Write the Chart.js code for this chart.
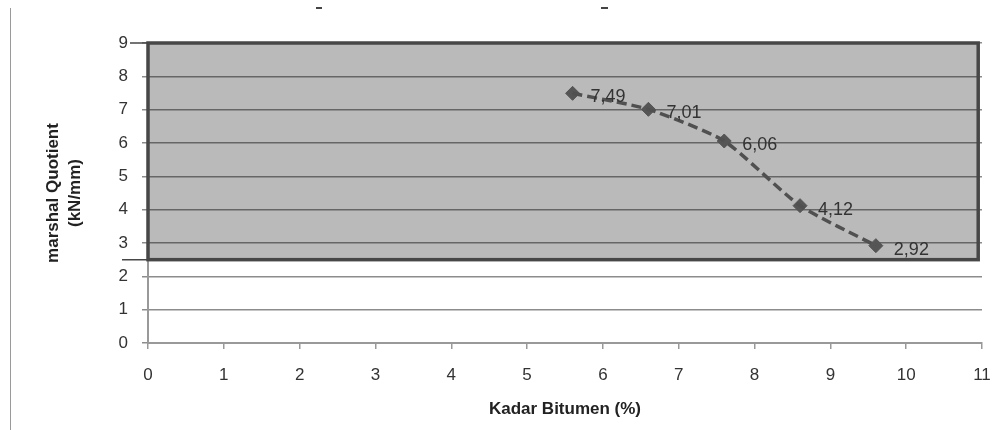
<!DOCTYPE html>
<html>
<head>
<meta charset="utf-8">
<script src="https://cdn.jsdelivr.net/npm/chart.js@4/dist/chart.umd.min.js"></script>
<style>
  html, body { margin: 0; padding: 0; background: #fff; }
  #wrap { position: relative; width: 1002px; height: 430px; }
  #frame { position: absolute; left: 10px; top: 8px; width: 0; height: 422px; border-left: 1.5px solid #9a9a9a; }
  .frag { position: absolute; top: 7px; height: 2px; background: #444; }
</style>
</head>
<body>
<div id="wrap">
  <canvas id="c" width="1002" height="430"></canvas>
  <div id="frame"></div>
  <div class="frag" style="left:316px;width:6px"></div>
  <div class="frag" style="left:601px;width:7px"></div>
</div>
<script>
// ---- data ----
const bitumen = [5.6, 6.6, 7.6, 8.6, 9.6];            // Kadar Bitumen (%)
const quotient = [7.49, 7.01, 6.06, 4.12, 2.92];       // marshal Quotient (kN/mm)
const pointLabels = ['7,49', '7,01', '6,06', '4,12', '2,92'];
const xTicks = [0, 1, 2, 3, 4, 5, 6, 7, 8, 9, 10, 11];
const yTicks = [0, 1, 2, 3, 4, 5, 6, 7, 8, 9];
const boxYRange = [2.5, 9];     // shaded region (value units)
const boxXRange = [0, 10.95];

const pts = bitumen.map((x, i) => ({ x: x, y: quotient[i] }));

const boxPlugin = {
  id: 'box',
  beforeDatasetsDraw(chart) {
    const { ctx, scales: { x, y } } = chart;
    const l = x.getPixelForValue(boxXRange[0]);
    const r = x.getPixelForValue(boxXRange[1]);
    const t = y.getPixelForValue(boxYRange[1]);
    const b = y.getPixelForValue(boxYRange[0]);
    ctx.save();
    ctx.globalCompositeOperation = 'multiply';
    ctx.fillStyle = '#bababa';
    ctx.fillRect(l, t, r - l, b - t);
    ctx.restore();
    ctx.save();
    ctx.strokeStyle = '#474747';
    ctx.lineWidth = 3.5;
    ctx.strokeRect(l, t, r - l, b - t);
    ctx.lineWidth = 1.5;
    ctx.beginPath();
    ctx.moveTo(l - 18, t); ctx.lineTo(l, t);
    ctx.moveTo(l - 26, b); ctx.lineTo(l, b);
    ctx.stroke();
    ctx.restore();
  }
};

const labelPlugin = {
  id: 'ptlabels',
  afterDatasetsDraw(chart) {
    const { ctx } = chart;
    const meta = chart.getDatasetMeta(1);
    ctx.save();
    ctx.font = '18px "Liberation Sans", Arial, sans-serif';
    ctx.fillStyle = '#333';
    ctx.textAlign = 'left';
    ctx.textBaseline = 'middle';
    meta.data.forEach((el, i) => {
      ctx.fillText(pointLabels[i], el.x + 18, el.y + 4);
    });
    ctx.restore();
  }
};

new Chart(document.getElementById('c'), {
  type: 'scatter',
  data: {
    datasets: [
      {
        type: 'line',
        data: pts,
        borderColor: '#505050',
        borderWidth: 3.5,
        borderDash: [10, 5],
        tension: 0.2,
        pointRadius: 0,
        fill: false
      },
      {
        data: pts,
        showLine: false,
        pointStyle: 'rectRot',
        pointRadius: 7,
        pointBackgroundColor: '#555',
        pointBorderColor: '#555',
        pointBorderWidth: 1
      }
    ]
  },
  options: {
    responsive: false,
    animation: false,
    devicePixelRatio: 1,
    layout: { padding: { top: 43, right: 20, left: 0, bottom: 0 } },
    plugins: { legend: { display: false }, tooltip: { enabled: false } },
    scales: {
      x: {
        type: 'linear',
        min: 0, max: 11,
        afterBuildTicks(s) { s.ticks = xTicks.map(v => ({ value: v })); },
        afterFit(s) { s.height = 87; s.paddingRight = 0; s.paddingLeft = 0; },
        grid: { drawOnChartArea: false, drawTicks: true, tickLength: 6, color: '#999', lineWidth: 1.5 },
        border: { color: '#999', width: 2 },
        ticks: { color: '#333', padding: 16, maxRotation: 0, font: { family: '"Liberation Sans", Arial, sans-serif', size: 17 } },
        title: {
          display: true, text: 'Kadar Bitumen (%)', color: '#222',
          font: { family: '"Liberation Sans", Arial, sans-serif', size: 17, weight: 'bold', lineHeight: 1.3 },
          padding: { top: 0, bottom: 10 }
        }
      },
      y: {
        type: 'linear',
        min: 0, max: 9,
        afterBuildTicks(s) { s.ticks = yTicks.map(v => ({ value: v })); },
        afterFit(s) { s.width = 148; },
        grid: { color: '#8c8c8c', lineWidth: 1.5, tickLength: 6 },
        border: { color: '#999', width: 2 },
        ticks: { color: '#333', padding: 14, font: { family: '"Liberation Sans", Arial, sans-serif', size: 17 } },
        title: {
          display: true, text: ['marshal Quotient', '(kN/mm)'], color: '#222',
          font: { family: '"Liberation Sans", Arial, sans-serif', size: 17, weight: 'bold', lineHeight: 1.3 },
          padding: { top: 42, bottom: 0 }
        }
      }
    }
  },
  plugins: [boxPlugin, labelPlugin]
});
</script>
</body>
</html>
